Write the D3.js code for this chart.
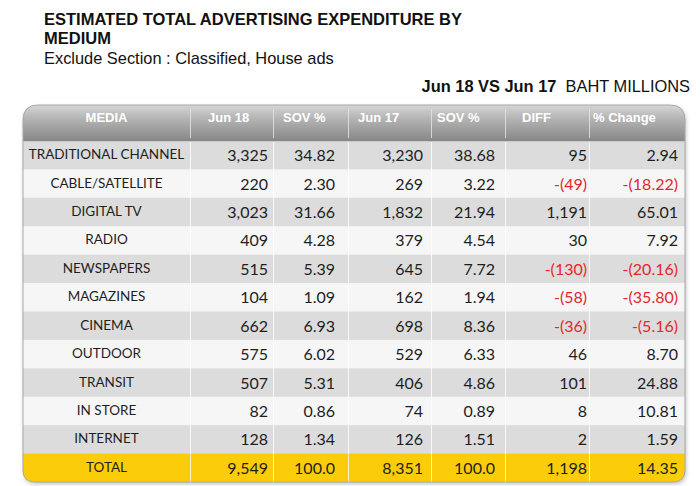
<!DOCTYPE html>
<html><head><meta charset="utf-8">
<script src="https://cdn.jsdelivr.net/npm/d3@7"></script>
<style>body{margin:0;background:#fff}svg{display:block}</style>
</head><body>
<script>
const media = ["TRADITIONAL CHANNEL","CABLE/SATELLITE","DIGITAL TV","RADIO","NEWSPAPERS","MAGAZINES","CINEMA","OUTDOOR","TRANSIT","IN STORE","INTERNET"];
const jun18 = [3325,220,3023,409,515,104,662,575,507,82,128];
const sov18 = [34.82,2.30,31.66,4.28,5.39,1.09,6.93,6.02,5.31,0.86,1.34];
const jun17 = [3230,269,1832,379,645,162,698,529,406,74,126];
const sov17 = [38.68,3.22,21.94,4.54,7.72,1.94,8.36,6.33,4.86,0.89,1.51];
const diff = [95,-49,1191,30,-130,-58,-36,46,101,8,2];
const pctChange = [2.94,-18.22,65.01,7.92,-20.16,-35.80,-5.16,8.70,24.88,10.81,1.59];
const totalRow = ["TOTAL",9549,100.0,8351,100.0,1198,14.35];
const headers = ["MEDIA","Jun 18","SOV %","Jun 17","SOV %","DIFF","% Change"];

(function(){
const W=700,H=486;
const svg=d3.select("body").append("svg").attr("width",W).attr("height",H);

// titles
const tf="Liberation Sans, Arial";
svg.append("text").attr("x",44).attr("y",25).attr("font-family",tf).attr("font-weight","bold").attr("font-size",16.5).attr("fill","#111").text("ESTIMATED TOTAL ADVERTISING EXPENDITURE BY");
svg.append("text").attr("x",44).attr("y",43.5).attr("font-family",tf).attr("font-weight","bold").attr("font-size",16.5).attr("fill","#111").text("MEDIUM");
svg.append("text").attr("x",44).attr("y",63.5).attr("font-family",tf).attr("font-size",16.4).attr("fill","#111").text("Exclude Section : Classified, House ads");
const sub=svg.append("text").attr("x",690).attr("y",92).attr("text-anchor","end").attr("font-family",tf).attr("font-size",16.4).attr("fill","#111");
sub.append("tspan").attr("font-weight","bold").text("Jun 18 VS Jun 17");
sub.append("tspan").text("\u00a0 BAHT MILLIONS");

// geometry
const tLeft=23,tRight=685,tTop=105,headBottom=141,tBottom=482;
const colEdges=[23,190,273,348,431,505,589,685];
const colIdx=d3.range(7);
const x0=d3.scaleOrdinal().domain(colIdx).range(colEdges.slice(0,7));
const x1=d3.scaleOrdinal().domain(colIdx).range(colEdges.slice(1));
const rowKeys=d3.range(12);
const y=d3.scaleBand().domain(rowKeys).range([headBottom,tBottom]);

const rows=media.map((m,i)=>[m,jun18[i],sov18[i],jun17[i],sov17[i],diff[i],pctChange[i]]);
rows.push(totalRow);

const defs=svg.append("defs");
const rT=15,rB=12;
const shapePath=`M${tLeft},${tTop+rT} Q${tLeft},${tTop} ${tLeft+rT},${tTop} L${tRight-rT},${tTop} Q${tRight},${tTop} ${tRight},${tTop+rT} L${tRight},${tBottom-rB} Q${tRight},${tBottom} ${tRight-rB},${tBottom} L${tLeft+rB},${tBottom} Q${tLeft},${tBottom} ${tLeft},${tBottom-rB} Z`;
defs.append("clipPath").attr("id","clip").append("path").attr("d",shapePath);
const g1=defs.append("linearGradient").attr("id","hg").attr("x1",0).attr("x2",0).attr("y1",0).attr("y2",1);
g1.append("stop").attr("offset","0%").attr("stop-color","#d6d6d6");
g1.append("stop").attr("offset","35%").attr("stop-color","#b6b6b6");
g1.append("stop").attr("offset","100%").attr("stop-color","#878787");
const f=defs.append("filter").attr("id","sh").attr("x","-5%").attr("y","-5%").attr("width","110%").attr("height","110%");
f.append("feDropShadow").attr("dx",1).attr("dy",2).attr("stdDeviation",2).attr("flood-color","#000").attr("flood-opacity",0.25);

svg.append("path").attr("d",shapePath).attr("fill","#fff").attr("filter","url(#sh)");

const tg=svg.append("g").attr("clip-path","url(#clip)");
tg.append("rect").attr("x",tLeft).attr("y",tTop).attr("width",tRight-tLeft).attr("height",headBottom-tTop).attr("fill","url(#hg)");
tg.selectAll("rect.row").data(rows).join("rect").attr("class","row")
 .attr("x",tLeft).attr("width",tRight-tLeft)
 .attr("y",(d,i)=>y(i)).attr("height",y.bandwidth()+0.5)
 .attr("fill",(d,i)=>i===11?"#fbcc0a":(i%2===0?"#dcdcdc":"#f6f6f6"));
tg.selectAll("line.hsep").data(colEdges.slice(1,7)).join("line").attr("class","hsep")
 .attr("x1",d=>d+0.5).attr("x2",d=>d+0.5).attr("y1",tTop+4).attr("y2",headBottom-3)
 .attr("stroke","#e6e6e6").attr("stroke-width",1).attr("opacity",0.8);
tg.selectAll("line.vsep").data(colEdges.slice(1,7)).join("line").attr("class","vsep")
 .attr("x1",d=>d+0.5).attr("x2",d=>d+0.5).attr("y1",headBottom).attr("y2",tBottom)
 .attr("stroke","#ffffff").attr("stroke-opacity",0.8).attr("stroke-width",1);
tg.append("line").attr("x1",tLeft).attr("x2",tRight).attr("y1",headBottom+0.5).attr("y2",headBottom+0.5).attr("stroke","#c8c8c8");

svg.append("path").attr("d",shapePath).attr("fill","none").attr("stroke","#a8a8a8").attr("stroke-width",1);

const headX=[null,208,283,358,437,522,593];
svg.selectAll("text.hd").data(headers).join("text").attr("class","hd")
 .attr("x",(d,i)=>i===0?(x0(0)+x1(0))/2:headX[i])
 .attr("y",122).attr("text-anchor",(d,i)=>i===0?"middle":"start")
 .attr("font-family",tf).attr("font-weight","bold").attr("font-size",13)
 .attr("fill","#fff").text(d=>d);

const fmtInt=d3.format(",");
function fmt(v,c,isTotal){
  if(c===0) return v;
  let s;
  if(c===2||c===4) s=isTotal?d3.format(".1f")(v):d3.format(".2f")(v);
  else if(c===6) s=d3.format(".2f")(Math.abs(v));
  else s=fmtInt(Math.abs(v));
  if(v<0) return "-("+s+")";
  return s;
}
const rightX=[null,268,335,423,495,587,678];
const cells=[];
rows.forEach((r,i)=>r.forEach((v,c)=>cells.push({v,c,i})));
svg.selectAll("text.cell").data(cells).join("text").attr("class","cell")
 .attr("x",d=>d.c===0?(x0(0)+x1(0))/2:rightX[d.c])
 .attr("y",d=>y(d.i)+y.bandwidth()/2+(d.c===0?4:6))
 .attr("text-anchor",d=>d.c===0?"middle":"end")
 .attr("font-family","Lato, 'Open Sans', sans-serif")
 .attr("font-size",d=>d.c===0?13.5:16)
 .attr("fill",d=>(d.c>0&&d.v<0)?"#e5262d":"#1e1e1e")
 .text(d=>fmt(d.v,d.c,d.i===11));
})();
</script>
</body></html>
